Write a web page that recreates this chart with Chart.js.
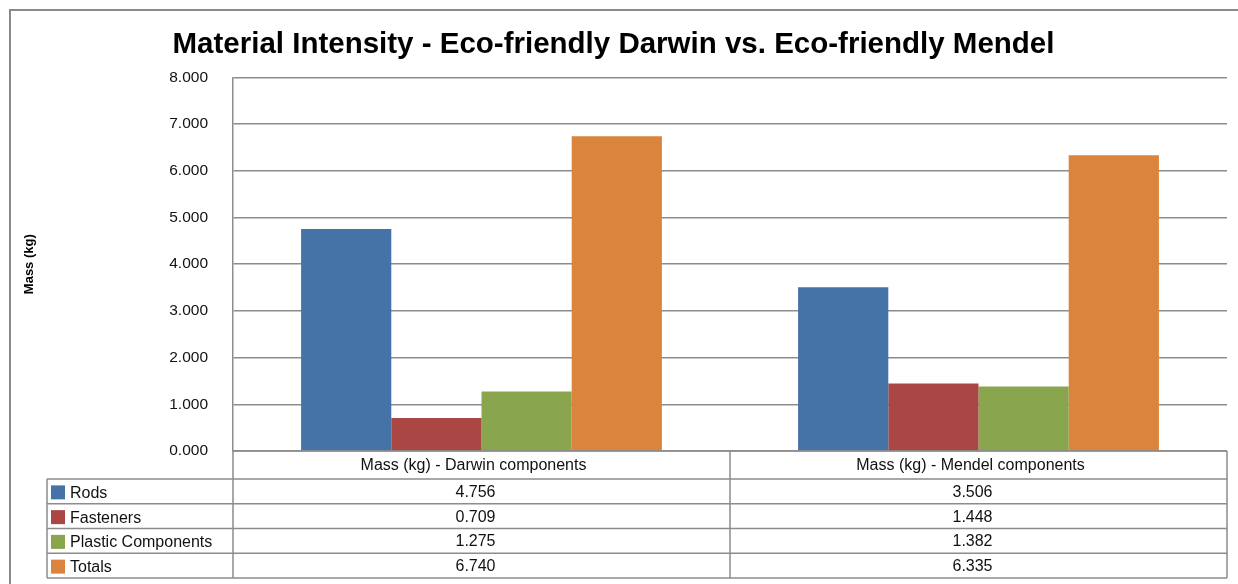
<!DOCTYPE html>
<html>
<head>
<meta charset="utf-8">
<title>Material Intensity</title>
<script src="https://cdn.jsdelivr.net/npm/chart.js@4"></script>
<style>
  html, body { margin: 0; padding: 0; background: #fff; }
  #wrap { width: 1238px; height: 584px; }
</style>
</head>
<body>
<div id="wrap"><canvas id="myChart" width="1238" height="584"></canvas></div>
<script>
// chart data
const categories = ["Mass (kg) - Darwin components", "Mass (kg) - Mendel components"];
const seriesNames = ["Rods", "Fasteners", "Plastic Components", "Totals"];
const rods = [4.756, 3.506];
const fasteners = [0.709, 1.448];
const plastic = [1.275, 1.382];
const totals = [6.74, 6.335];
const yTicks = [0, 1, 2, 3, 4, 5, 6, 7, 8];

const colors = ["#4572A7", "#AA4643", "#89A54E", "#DB843D"];
const seriesValues = [rods, fasteners, plastic, totals];
const lineColor = "#8c8c8c";
const font = "'Liberation Sans', Arial, Helvetica, sans-serif";

// grey frame + data table under the plot
const tablePlugin = {
  id: "dataTable",
  afterDraw(chart) {
    const ctx = chart.ctx;
    const area = chart.chartArea;
    const x = chart.scales.x;
    const headTop = area.bottom;
    const headH = 28;
    const rowH = 24.75;
    const legendLeft = 47;
    const step = x.getPixelForValue(1) - x.getPixelForValue(0);
    const colEdges = [area.left];
    categories.forEach((c, i) => colEdges.push(x.getPixelForValue(i) + step / 2));

    ctx.save();
    // outer frame
    ctx.strokeStyle = "#8a8a8a";
    ctx.lineWidth = 2;
    ctx.strokeRect(10, 10, chart.width + 10, chart.height + 10);

    ctx.strokeStyle = lineColor;
    ctx.lineWidth = 1.5;
    const bottom = headTop + headH + rowH * seriesNames.length;

    // horizontal lines
    ctx.beginPath();
    ctx.moveTo(area.left, headTop);
    ctx.lineTo(area.right, headTop);
    for (let r = 0; r <= seriesNames.length; r++) {
      const y = headTop + headH + r * rowH;
      ctx.moveTo(legendLeft, y);
      ctx.lineTo(area.right, y);
    }
    // vertical lines
    colEdges.forEach((cx) => {
      ctx.moveTo(cx, headTop);
      ctx.lineTo(cx, bottom);
    });
    ctx.moveTo(legendLeft, headTop + headH);
    ctx.lineTo(legendLeft, bottom);
    ctx.stroke();

    ctx.fillStyle = "#111";
    ctx.font = "16px " + font;
    ctx.textBaseline = "middle";
    ctx.textAlign = "center";
    categories.forEach((c, i) => {
      ctx.fillText(c, x.getPixelForValue(i) - 8, headTop + headH / 2 + 1);
    });
    seriesNames.forEach((name, r) => {
      const cy = headTop + headH + r * rowH + rowH / 2 + 1;
      ctx.fillStyle = colors[r];
      ctx.fillRect(51, cy - 7, 14, 14);
      ctx.fillStyle = "#111";
      ctx.textAlign = "left";
      ctx.fillText(name, 70, cy + 1);
      ctx.textAlign = "center";
      seriesValues[r].forEach((v, i) => {
        ctx.fillText(v.toFixed(3), x.getPixelForValue(i) - 6, cy);
      });
    });
    ctx.restore();
  },
};

const ctx = document.getElementById("myChart");
const myChart = new Chart(ctx, {
  type: "bar",
  data: {
    labels: categories,
    datasets: seriesNames.map((name, i) => ({
      label: name,
      data: seriesValues[i],
      backgroundColor: colors[i],
      borderWidth: 0,
      categoryPercentage: 0.726,
      barPercentage: 1.0,
    })),
  },
  options: {
    responsive: false,
    animation: false,
    devicePixelRatio: 1,
    layout: { padding: { left: 0, right: 11, top: 12, bottom: 133 } },
    plugins: {
      legend: { display: false },
      tooltip: { enabled: false },
      title: {
        display: true,
        text: "Material Intensity - Eco-friendly Darwin vs. Eco-friendly Mendel",
        color: "#000",
        font: { family: font, size: 29.5, weight: "bold" },
        padding: { top: 15, bottom: 15 },
      },
    },
    scales: {
      x: {
        ticks: { display: false },
        grid: { display: false, drawTicks: false },
        border: { display: false },
        afterFit(scale) { scale.height = 0; },
      },
      y: {
        min: 0,
        max: 8,
        afterBuildTicks(scale) {
          scale.ticks = yTicks.map((v) => ({ value: v }));
        },
        afterFit(scale) { scale.width = 233; },
        ticks: {
          color: "#111",
          font: { family: font, size: 15.5 },
          padding: 25,
          callback: (v) => v.toFixed(3),
        },
        grid: { color: lineColor, lineWidth: 1.5, drawTicks: false },
        border: { display: true, color: lineColor, width: 1.5 },
        title: {
          display: true,
          text: "Mass (kg)",
          color: "#000",
          font: { family: font, size: 13, weight: "bold" },
          padding: { top: 22, bottom: 0 },
        },
      },
    },
  },
  plugins: [tablePlugin],
});
</script>
</body>
</html>
